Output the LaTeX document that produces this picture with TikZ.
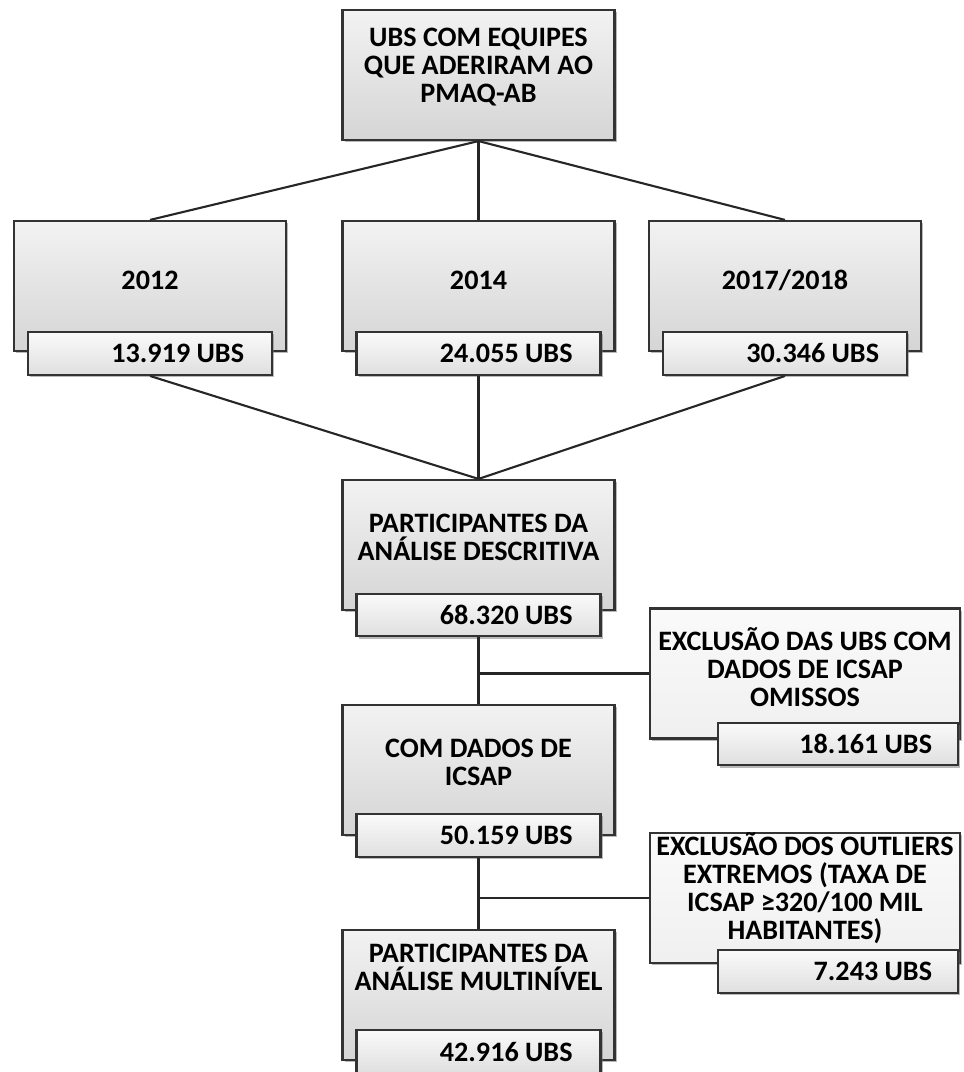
\documentclass[tikz,border=0pt]{standalone}
\usepackage{fontspec}
\setmainfont{Carlito}
\usetikzlibrary{shadows}

\begin{document}
\begin{tikzpicture}[x=0.025cm, y=-0.025cm]
        \tikzstyle{mainbox} = [draw=black!80, line width=1.5pt, rectangle, top color=gray!10, bottom color=gray!33, minimum width=6.8cm, minimum height=3.25cm, drop shadow={shadow xshift=1.5pt, shadow yshift=-1.5pt, fill=black!55}]
        \tikzstyle{exclbox} = [mainbox, top color=gray!4, bottom color=gray!12, minimum width=7.75cm]
        \tikzstyle{numbox} = [draw=black!80, line width=1.5pt, rectangle, top color=gray!4, bottom color=gray!25, minimum height=1.07cm, inner xsep=0.7cm, text width=4.7cm, align=flush right, font=\bfseries\fontsize{20}{20}\selectfont, drop shadow={shadow xshift=1.5pt, shadow yshift=-1.5pt, fill=black!55}]
        \tikzstyle{boxtext} = [align=center, inner sep=0pt, font=\bfseries\fontsize{20}{20}\selectfont]
        \tikzstyle{line} = [draw=black!85, line width=1.5pt]

        \useasboundingbox (0,0) rectangle (963,1072);

        % top box
        \node [mainbox] (top) at (478.5,75) {};
        \node [boxtext] (toptext) at (478.5,67) {UBS COM EQUIPES\\ QUE ADERIRAM AO\\ PMAQ-AB};

        % cycles
        \node [mainbox] (y2012) at (150,286) {};
        \node [boxtext] (y2012text) at (150,280) {2012};
        \node [numbox] (n2012) at (150,353.5) {13.919 UBS};

        \node [mainbox] (y2014) at (478.5,286) {};
        \node [boxtext] (y2014text) at (478.5,280) {2014};
        \node [numbox] (n2014) at (478.5,353.5) {24.055 UBS};

        \node [mainbox] (y2017) at (785,286) {};
        \node [boxtext] (y2017text) at (785,280) {2017/2018};
        \node [numbox] (n2017) at (785,353.5) {30.346 UBS};

        % central column
        \node [mainbox] (desc) at (478.5,545) {};
        \node [boxtext] (desctext) at (478.5,537) {PARTICIPANTES DA\\ ANÁLISE DESCRITIVA};
        \node [numbox] (descn) at (478.5,615) {68.320 UBS};

        \node [mainbox] (icsap) at (478.5,770) {};
        \node [boxtext] (icsaptext) at (478.5,762) {COM DADOS DE\\ ICSAP};
        \node [numbox] (icsapn) at (478.5,835.5) {50.159 UBS};

        \node [mainbox] (multi) at (478.5,995) {};
        \node [boxtext] (multitext) at (478.5,967.5) {PARTICIPANTES DA\\ ANÁLISE MULTINÍVEL};
        \node [numbox] (multin) at (478.5,1051.5) {42.916 UBS};

        % exclusions
        \node [exclbox] (excl1) at (805,673.5) {};
        \node [boxtext] (excl1text) at (805,667) {EXCLUSÃO DAS UBS COM\\ DADOS DE ICSAP\\ OMISSOS};
        \node [numbox, minimum width=6cm, inner xsep=0.65cm] (excl1n) at (838,744) {18.161 UBS};

        \node [exclbox] (excl2) at (805,898) {};
        \node [boxtext] (excl2text) at (805,888) {EXCLUSÃO DOS OUTLIERS\\ EXTREMOS (TAXA DE\\ ICSAP ≥320/100 MIL\\ HABITANTES)};
        \node [numbox, minimum width=6cm, inner xsep=0.65cm] (excl2n) at (838,971.5) {7.243 UBS};

        \coordinate (j1) at (descn.south |- excl1.west);
        \coordinate (j2) at (icsapn.south |- excl2.west);

        \draw [line] (top.south) -- (y2012.north);
        \draw [line] (top.south) -- (y2014.north);
        \draw [line] (top.south) -- (y2017.north);
        \draw [line] (n2012.south) -- (desc.north);
        \draw [line] (n2014.south) -- (desc.north);
        \draw [line] (n2017.south) -- (desc.north);
        \draw [line] (descn.south) -- (icsap.north);
        \draw [line] (j1) -- (excl1.west);
        \draw [line] (icsapn.south) -- (multi.north);
        \draw [line] (j2) -- (excl2.west);
    \end{tikzpicture}
\end{document}
